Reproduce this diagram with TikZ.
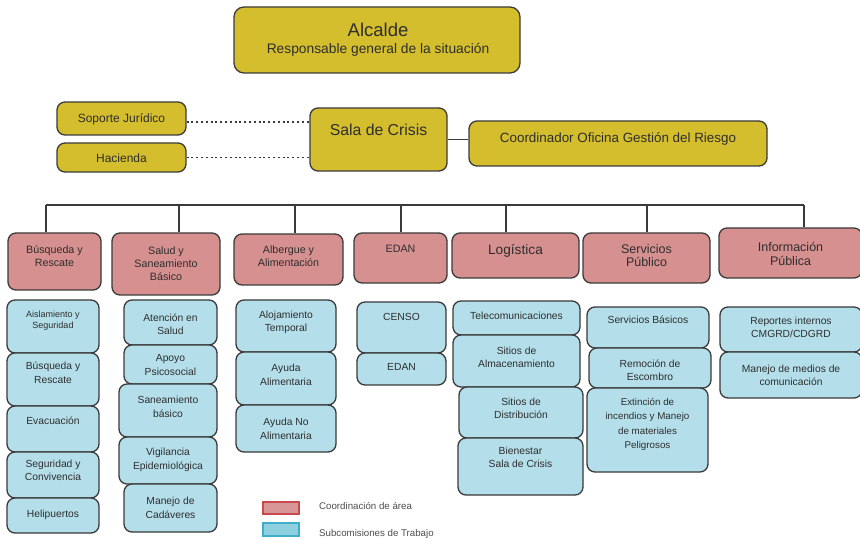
\documentclass[tikz,border=0pt]{standalone}
\usepackage{fontspec}
\setmainfont{Liberation Sans}
\definecolor{edge}{HTML}{3A3A3A}
\definecolor{yel}{HTML}{D4BE2E}
\definecolor{pinkc}{HTML}{D79090}
\definecolor{bluec}{HTML}{B4DFEA}
\definecolor{textc}{HTML}{2E2E2E}
\definecolor{legpink}{HTML}{D99696}
\definecolor{legpinkd}{HTML}{C94A4A}
\definecolor{legblue}{HTML}{8ED0DF}
\definecolor{legblued}{HTML}{3FAEC8}
\tikzset{
  box/.style={draw=edge, line width=1.3pt, rounded corners=8pt, inner sep=0pt},
  yelbox/.style={box, fill=yel},
  pinkbox/.style={box, fill=pinkc},
  bluebox/.style={box, fill=bluec},
  fs/.style 2 args={font=\fontsize{#1}{#2}\selectfont},
  txt/.style={align=center, inner sep=0pt, text=textc},
  pinktxt/.style={txt, fs={10.7}{13}},
  bluetxt/.style={txt, fs={10.3}{13.5}},
  link/.style={draw=edge, line width=1.3pt},
  dots/.style={draw=edge, line width=1.4pt, dash pattern=on 2pt off 2.8pt},
  legtxt/.style={inner sep=0pt, text=textc!85, fs={9.7}{11}},
}
% name, box style, text style, x1, y1, x2, y2, text y, text
\newcommand{\orgbox}[9]{%
  \node[#2, minimum width={(#6-#4)*1pt}, minimum height={(#7-#5)*1pt}] (#1) at ({(#4+#6)/2}, {(#5+#7)/2}) {};
  \node[#3] (#1-t) at ({(#4+#6)/2}, #8) {#9};
}
\begin{document}
\begin{tikzpicture}[x=1pt, y=-1pt]
  \useasboundingbox (0,0) rectangle (860,540);
  % mando
  \node[yelbox, rounded corners=10pt, minimum width=286pt, minimum height=66pt] (alcalde) at (377,40) {};
  \node[txt, fs={18.5}{20}] (alcalde-t) at (378,29.5) {Alcalde};
  \node[txt, fs={13.8}{16}] (alcalde-s) at (378,50) {Responsable general de la situación};
  \orgbox{soporte}{yelbox}{txt, fs={12}{14}}{57}{102}{186}{135}{119}{Soporte Jurídico}
  \orgbox{hacienda}{yelbox}{txt, fs={12}{14}}{57}{143}{186}{172}{158}{Hacienda}
  \orgbox{sala}{yelbox}{txt, fs={15.8}{18}}{310}{108}{447}{171}{130}{Sala de Crisis}
  \orgbox{coord}{yelbox}{txt, fs={13.4}{16}}{469}{121}{767}{166}{139}{Coordinador Oficina Gestión del Riesgo}
  \draw[dots] (soporte.east) ++(0,3.5) coordinate (sj) -- (sj -| sala.west);
  \draw[dots] (hacienda.east) -- (hacienda.east -| sala.west);
  \draw[link] (sala.east) -- (sala.east -| coord.west);
  % coordinaciones de area
  \orgbox{busq}{pinkbox}{pinktxt}{8}{233}{101}{290}{256}{Búsqueda y\\Rescate}
  \orgbox{salud}{pinkbox}{pinktxt}{112}{233}{220}{295}{264}{Salud y\\Saneamiento\\Básico}
  \orgbox{alberg}{pinkbox}{pinktxt}{234}{234}{343}{285}{256}{Albergue y\\Alimentación}
  \orgbox{edan}{pinkbox}{pinktxt}{354}{233}{447}{283}{249}{EDAN}
  \orgbox{logis}{pinkbox}{txt, fs={13.7}{16}}{452}{233}{579}{278}{251}{Logística}
  \orgbox{serv}{pinkbox}{txt, fs={12.5}{13.5}}{583}{233}{710}{283}{255.5}{Servicios\\Público}
  \orgbox{info}{pinkbox}{txt, fs={12.5}{13.5}}{719}{228}{862}{278}{254}{Información\\Pública}
  \coordinate (busL) at (46,205);
  \coordinate (busR) at (804,205);
  \draw[link] (busL) -- (busR);
  \foreach \n/\x in {busq/46, salud/179, alberg/295, edan/401, logis/506, serv/647, info/804} {
    \coordinate (d\n) at (\x,205);
    \draw[link] (d\n) -- (d\n |- \n.north);
  }
  % subcomisiones
  \orgbox{aisl}{bluebox}{txt, fs={9}{11}}{7}{300}{99}{353}{320.5}{Aislamiento y\\Seguridad}
  \orgbox{busq2}{bluebox}{bluetxt}{7}{353}{99}{406}{373}{Búsqueda y\\Rescate}
  \orgbox{evac}{bluebox}{bluetxt}{7}{406}{99}{452}{421}{Evacuación}
  \orgbox{segur}{bluebox}{bluetxt}{7}{452}{99}{498}{470.5}{Seguridad y\\Convivencia}
  \orgbox{heli}{bluebox}{bluetxt}{7}{498}{99}{533}{515}{Helipuertos}
  \orgbox{atenc}{bluebox}{bluetxt}{124}{300}{217}{345}{324.5}{Atención en\\Salud}
  \orgbox{apoyo}{bluebox}{bluetxt}{124}{345}{217}{384}{365}{Apoyo\\Psicosocial}
  \orgbox{sanea}{bluebox}{bluetxt}{119}{384}{217}{437}{407}{Saneamiento\\básico}
  \orgbox{vigil}{bluebox}{bluetxt}{119}{437}{217}{484}{460}{Vigilancia\\Epidemiológica}
  \orgbox{cadav}{bluebox}{bluetxt}{124}{484}{217}{532}{508}{Manejo de\\Cadáveres}
  \orgbox{aloja}{bluebox}{bluetxt}{236}{300}{336}{352}{322.5}{Alojamiento\\Temporal}
  \orgbox{ayuda}{bluebox}{bluetxt}{236}{352}{336}{405}{375}{Ayuda\\Alimentaria}
  \orgbox{ayudano}{bluebox}{bluetxt}{236}{405}{336}{452}{429}{Ayuda No\\Alimentaria}
  \orgbox{censo}{bluebox}{bluetxt}{357}{302}{446}{353}{317}{CENSO}
  \orgbox{edan2}{bluebox}{bluetxt}{357}{353}{446}{385}{367}{EDAN}
  \orgbox{telec}{bluebox}{bluetxt}{453}{301}{580}{335}{316}{Telecomunicaciones}
  \orgbox{almac}{bluebox}{bluetxt}{453}{335}{580}{387}{357.5}{Sitios de\\Almacenamiento}
  \orgbox{distr}{bluebox}{bluetxt}{459}{387}{583}{438}{408.5}{Sitios de\\Distribución}
  \orgbox{biene}{bluebox}{bluetxt}{458}{438}{583}{495}{457.5}{Bienestar\\Sala de Crisis}
  \orgbox{basic}{bluebox}{bluetxt}{587}{307}{709}{348}{320}{Servicios Básicos}
  \orgbox{remoc}{bluebox}{bluetxt}{589}{348}{711}{388}{370.5}{Remoción de\\Escombro}
  \orgbox{extin}{bluebox}{txt, fs={9.8}{14.3}}{587}{388}{708}{472}{424.5}{Extinción de\\incendios y Manejo\\de materiales\\Peligrosos}
  \orgbox{report}{bluebox}{bluetxt}{720}{307}{862}{352}{327.5}{Reportes internos\\CMGRD/CDGRD}
  \orgbox{medios}{bluebox}{bluetxt}{720}{352}{862}{398}{375.5}{Manejo de medios de\\comunicación}
  % leyenda
  \node[draw=legpinkd, fill=legpink, line width=1.2pt, minimum width=36pt, minimum height=12pt] (legc) at (281,508) {};
  \node[legtxt, right] (legc-t) at (319,506) {Coordinación de área};
  \node[draw=legblued, fill=legblue, line width=1.2pt, minimum width=36pt, minimum height=13pt] (legs) at (281,529.5) {};
  \node[legtxt, right] (legs-t) at (319,534) {Subcomisiones de Trabajo};
\end{tikzpicture}
\end{document}
